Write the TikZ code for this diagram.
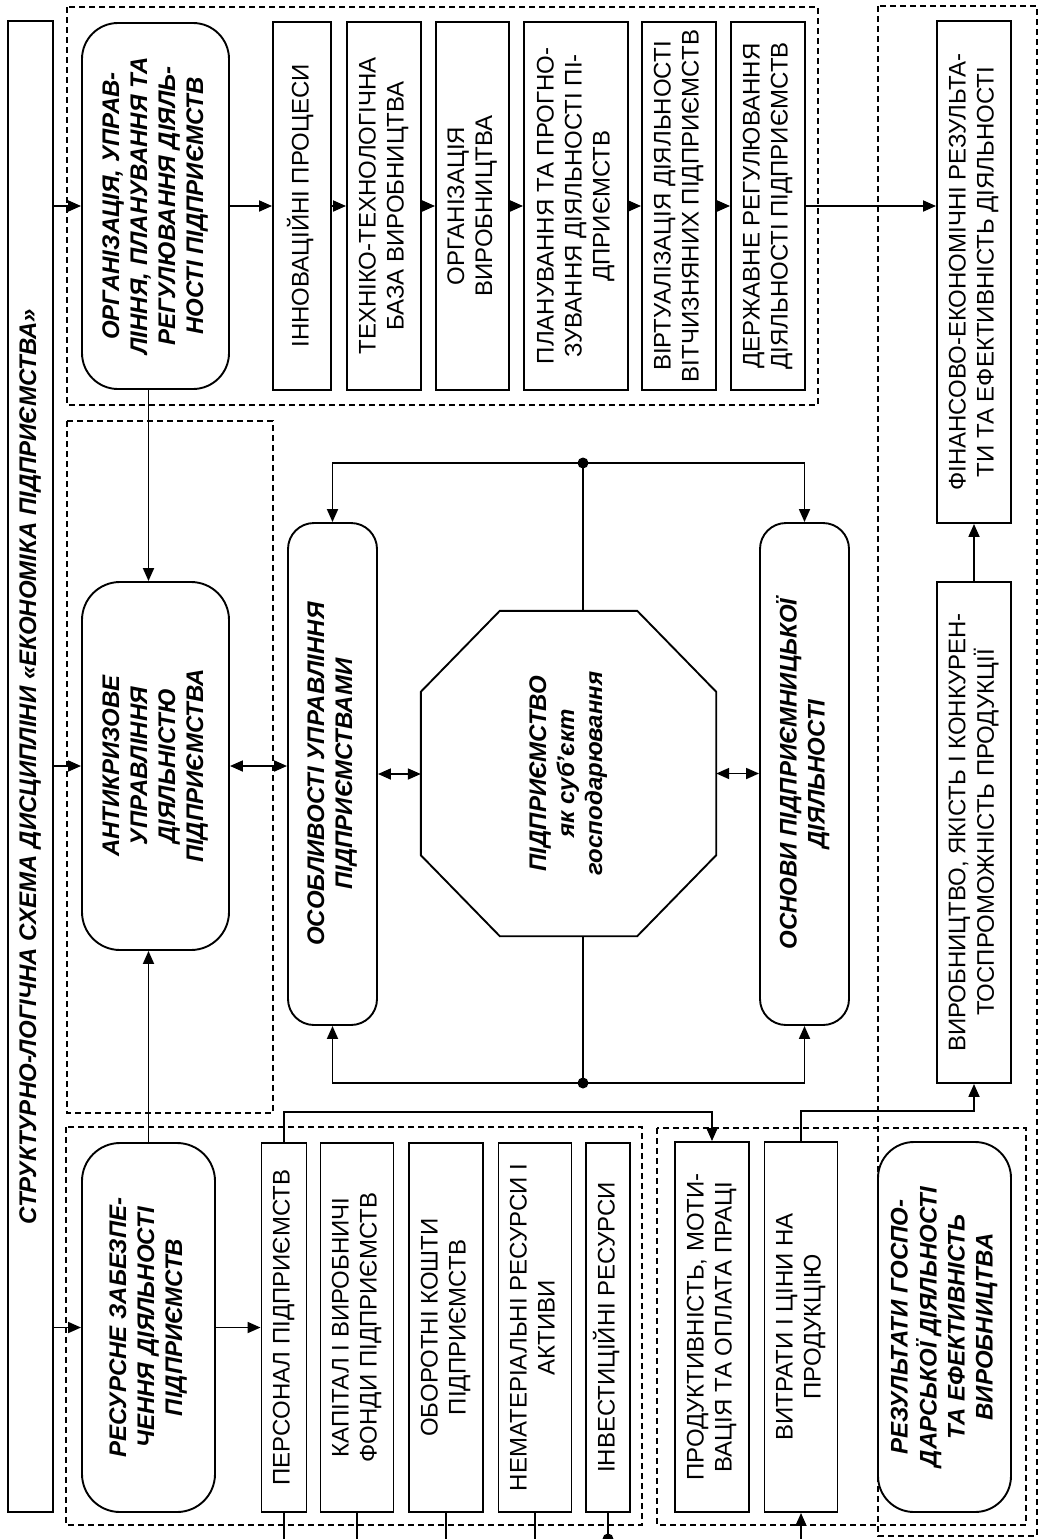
\documentclass[tikz,border=0pt]{standalone}
\usepackage{fontspec}
\setmainfont{Liberation Sans}
\usepackage{graphicx}
\usetikzlibrary{arrows.meta, calc}

\newcommand{\uptext}[1]{\rotatebox{90}{\begin{tabular}{@{}c@{}}#1\end{tabular}}}
\newcommand{\plainfont}{\fontsize{24}{28}\selectfont}
\newcommand{\headfont}{\fontsize{24}{28}\selectfont\bfseries\itshape}

\begin{document}
\begin{tikzpicture}[x=1pt, y=-1pt,
    box/.style 2 args={draw, line width=1.9pt, minimum width=#1pt, minimum height=#2pt, inner sep=0pt, font=\plainfont},
    rbox/.style n args={3}{draw, line width=1.9pt, rounded corners=#3pt, minimum width=#1pt, minimum height=#2pt, inner sep=0pt, font=\headfont},
    group/.style={dash pattern=on 6pt off 4pt, line width=1.5pt},
    arrow/.style={-{Triangle[length=13pt, width=11pt]}, line width=1.8pt},
    dblarrow/.style={{Triangle[length=13pt, width=11pt]}-{Triangle[length=13pt, width=11pt]}, line width=1.8pt},
    link/.style={line width=1.8pt},
    dot/.style={circle, fill, inner sep=0pt, minimum size=11pt}
]
\useasboundingbox (0,0) rectangle (1040,1539);
\fill[white] (0,0) rectangle (1040,1539);

% dashed groups
\draw[group] (67,7) rectangle (818,405);
\draw[group] (67,421) rectangle (273,1113);
\draw[group] (66,1127) rectangle (642,1525);
\draw[group] (657,1128) rectangle (1026,1525);
\draw[group] (878,6) rectangle (1037,1536);

% title
\node[box={45}{1491}, font=\headfont] (title) at (30.5,766.5) {\uptext{СТРУКТУРНО-ЛОГІЧНА СХЕМА ДИСЦИПЛІНИ «ЕКОНОМІКА ПІДПРИЄМСТВА»}};

% organisation row
\node[rbox={147}{366}{36}] (orh) at (155.5,206) {\uptext{ОРГАНІЗАЦІЯ, УПРАВ-\\ЛІННЯ, ПЛАНУВАННЯ ТА\\РЕГУЛЮВАННЯ ДІЯЛЬ-\\НОСТІ ПІДПРИЄМСТВ}};
\node[box={58}{368}] (inn) at (302,206) {\uptext{ІННОВАЦІЙНІ ПРОЦЕСИ}};
\node[box={74}{368}] (tekh) at (384,206) {\uptext{ТЕХНІКО-ТЕХНОЛОГІЧНА\\БАЗА ВИРОБНИЦТВА}};
\node[box={73}{368}] (orgv) at (472.5,206) {\uptext{ОРГАНІЗАЦІЯ\\ВИРОБНИЦТВА}};
\node[box={104}{368}] (plan) at (576,206) {\uptext{ПЛАНУВАННЯ ТА ПРОГНО-\\ЗУВАННЯ ДІЯЛЬНОСТІ ПІ-\\ДПРИЄМСТВ}};
\node[box={74}{368}] (virt) at (679,206) {\uptext{ВІРТУАЛІЗАЦІЯ ДІЯЛЬНОСТІ\\ВІТЧИЗНЯНИХ ПІДПРИЄМСТВ}};
\node[box={74}{368}] (derzh) at (768,206) {\uptext{ДЕРЖАВНЕ РЕГУЛЮВАННЯ\\ДІЯЛЬНОСТІ ПІДПРИЄМСТВ}};

% results column
\node[box={74}{502}] (fin) at (974,272) {\uptext{ФІНАНСОВО-ЕКОНОМІЧНІ РЕЗУЛЬТА-\\ТИ ТА ЕФЕКТИВНІСТЬ ДІЯЛЬНОСТІ}};
\node[box={74}{501}] (vyrob) at (974,832.5) {\uptext{ВИРОБНИЦТВО, ЯКІСТЬ І КОНКУРЕН-\\ТОСПРОМОЖНІСТЬ ПРОДУКЦІЇ}};

% middle
\node[rbox={147}{368}{38}] (antykryz) at (155.5,766) {\uptext{АНТИКРИЗОВЕ\\УПРАВЛІННЯ\\ДІЯЛЬНІСТЮ\\ПІДПРИЄМСТВА}};
\node[rbox={89}{502}{26}] (osobl) at (332.5,774) {\uptext{ОСОБЛИВОСТІ УПРАВЛІННЯ\\ПІДПРИЄМСТВАМИ}};
\node[font=\headfont, minimum width=295pt, minimum height=325pt, inner sep=0pt] (oct) at (568.5,773.5) {\uptext{ПІДПРИЄМСТВО\\як суб'єкт\\господарювання}};
\draw[line width=1.9pt] ($(oct.north west)+(79,0)$) -- ($(oct.north east)+(-79,0)$) -- ($(oct.north east)+(0,81)$) -- ($(oct.south east)+(0,-81)$) -- ($(oct.south east)+(-79,0)$) -- ($(oct.south west)+(79,0)$) -- ($(oct.south west)+(0,-81)$) -- ($(oct.north west)+(0,81)$) -- cycle;
\node[rbox={89}{502}{26}] (osnovy) at (804.5,774) {\uptext{ОСНОВИ ПІДПРИЄМНИЦЬКОЇ\\ДІЯЛЬНОСТІ}};

% resources
\node[rbox={133}{369}{38}] (res) at (148.5,1327.5) {\uptext{РЕСУРСНЕ ЗАБЕЗПЕ-\\ЧЕННЯ ДІЯЛЬНОСТІ\\ПІДПРИЄМСТВ}};
\node[box={45}{369}] (pers) at (284,1327.5) {\uptext{ПЕРСОНАЛ ПІДПРИЄМСТВ}};
\node[box={73}{369}] (kap) at (357,1327.5) {\uptext{КАПІТАЛ І ВИРОБНИЧІ\\ФОНДИ ПІДПРИЄМСТВ}};
\node[box={74}{369}] (obor) at (446,1327.5) {\uptext{ОБОРОТНІ КОШТИ\\ПІДПРИЄМСТВ}};
\node[box={73}{369}] (nemat) at (535,1327.5) {\uptext{НЕМАТЕРІАЛЬНІ РЕСУРСИ І\\АКТИВИ}};
\node[box={44}{369}] (inv) at (608,1327.5) {\uptext{ІНВЕСТИЦІЙНІ РЕСУРСИ}};

% outcomes
\node[box={74}{370}] (prod) at (712,1327) {\uptext{ПРОДУКТИВНІСТЬ, МОТИ-\\ВАЦІЯ ТА ОПЛАТА ПРАЦІ}};
\node[box={73}{370}] (vytr) at (801,1327) {\uptext{ВИТРАТИ І ЦІНИ НА\\ПРОДУКЦІЮ}};
\node[rbox={133}{370}{36}] (rez) at (944.5,1327) {\uptext{РЕЗУЛЬТАТИ ГОСПО-\\ДАРСЬКОЇ ДІЯЛЬНОСТІ\\ТА ЕФЕКТИВНІСТЬ\\ВИРОБНИЦТВА}};

% junctions
\node[dot] (topdot) at (583,463) {};
\node[dot] (botdot) at (583,1083) {};
\coordinate (pagebot) at (0,1539);

% connectors
\draw[arrow] (title.east |- orh.west) -- (orh.west);
\draw[arrow] (title.east |- antykryz.west) -- (antykryz.west);
\draw[arrow] (title.east |- res.west) -- (res.west);
\draw[arrow] (orh.east) -- (inn.west);
\draw[arrow] (inn) -- (tekh);
\draw[arrow] (tekh) -- (orgv);
\draw[arrow] (orgv) -- (plan);
\draw[arrow] (plan) -- (virt);
\draw[arrow] (virt) -- (derzh);
\draw[arrow] (derzh.east) -- (derzh.east -| fin.west);
\draw[arrow] (vyrob) -- (fin);
\draw[arrow] (orh.south -| res.north) -- (antykryz.north -| res.north);
\draw[arrow] (res.north) -- (antykryz.south -| res.north);
\draw[dblarrow] (antykryz.east) -- (antykryz.east -| osobl.west);
\draw[dblarrow] (osobl.east) -- (osobl.east -| oct.west);
\draw[dblarrow] (oct.east) -- (oct.east -| osnovy.west);
\draw[arrow] (topdot.center) -| (osobl.north);
\draw[arrow] (topdot.center) -| (osnovy.north);
\draw[link] (topdot.center) -- (topdot.center |- oct.north);
\draw[arrow] (botdot.center) -| (osobl.south);
\draw[arrow] (botdot.center) -| (osnovy.south);
\draw[link] (botdot.center) -- (botdot.center |- oct.south);
\draw[arrow] (res.east) -- (pers.west);
\draw[arrow] (pers.north) -- ++(0,-30) -| (prod.north);
\draw[arrow] (vytr.north) -- ++(0,-30) -| (vyrob.south);
\foreach \b in {pers,kap,obor,nemat,inv}
  \draw[link] (\b.south) -- (\b.south |- pagebot);
\node[dot] (invend) at (inv.south |- pagebot) {};
\draw[arrow] (vytr.south |- pagebot) -- (vytr.south);
\end{tikzpicture}
\end{document}
